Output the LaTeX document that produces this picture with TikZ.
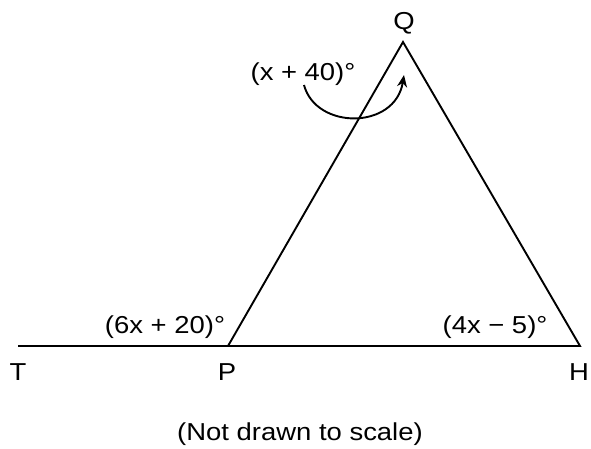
\documentclass[tikz,border=0pt]{standalone}
\usepackage{fontspec}
\setmainfont[FakeStretch=1.12]{Liberation Sans}
\usetikzlibrary{arrows.meta}
\begin{document}
\begin{tikzpicture}[x=1pt,y=-1pt,
  lbl/.style={anchor=base,inner sep=0pt,font=\fontsize{24.5}{28}\selectfont},
  edge/.style={line width=1.9pt,line join=miter},
  turn/.style={line width=1.9pt,-{Stealth[length=12pt,width=10pt]}}]
\useasboundingbox[fill=white] (0,0) rectangle (591,448);
\coordinate (T) at (18,346);
\coordinate (P) at (228,346);
\coordinate (H) at (580,346);
\coordinate (Q) at (403,42);
\coordinate (s) at (304,85);
\coordinate (e) at (404,75);
\draw[edge] (T) -- (P) -- (Q) -- (H) -- (P);
\draw[turn] (s) .. controls (316,130) and (395,130) .. (e);
\node[lbl] (lQ) at (404,29) {Q};
\node[lbl] (lT) at (18,380) {T};
\node[lbl] (lP) at (227,380) {P};
\node[lbl] (lH) at (579,380) {H};
\node[lbl] (aQ) at (303,80) {(x + 40)°};
\node[lbl] (aP) at (165,333) {(6x + 20)°};
\node[lbl] (aH) at (495,333) {(4x − 5)°};
\node[lbl] (cap) at (300,440) {(Not drawn to scale)};
\end{tikzpicture}
\end{document}
